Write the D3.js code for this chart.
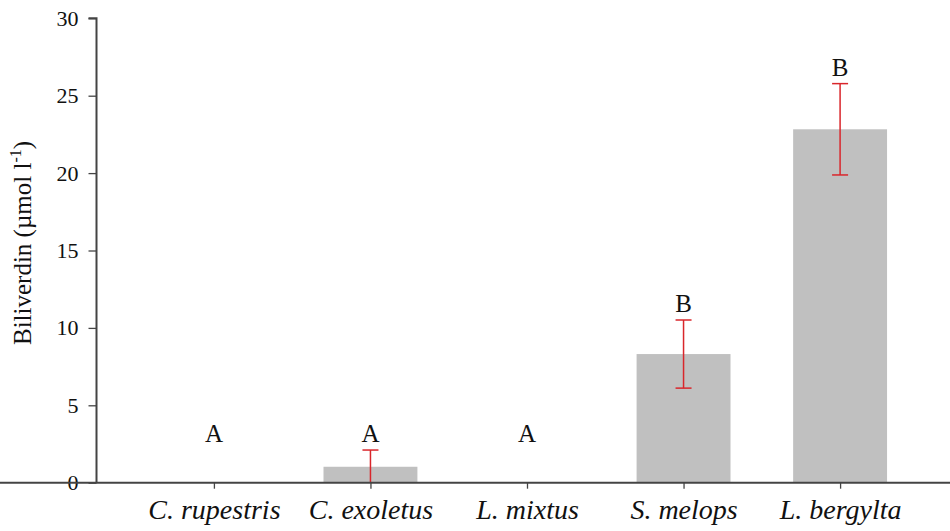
<!DOCTYPE html>
<html>
<head>
<meta charset="utf-8">
<script src="https://cdn.jsdelivr.net/npm/d3@7"></script>
<style>
  html, body { margin: 0; padding: 0; background: #fff; }
  svg { display: block; }
  text { font-family: "Liberation Serif", "Times New Roman", serif; fill: #111; }
</style>
</head>
<body>
<svg id="chart" width="950" height="531"></svg>
<script>
// Species sampled
const species = ["C. rupestris", "C. exoletus", "L. mixtus", "S. melops", "L. bergylta"];
// Mean plasma biliverdin (µmol l-1)
const meanValues = [0, 1.03, 0, 8.31, 22.83];
// Standard error of the mean
const seValues = [0, 1.08, 0, 2.2, 2.95];
// Significance group letters
const groupLetters = ["A", "A", "A", "B", "B"];
// Y axis ticks
const yTicks = [0, 5, 10, 15, 20, 25, 30];

const svg = d3.select("#chart");
const W = 950, H = 531;
const margin = { left: 96.5 };

const y = d3.scaleLinear().domain([0, 30]).range([482.7, 18.3]);
const x = d3.scalePoint().domain(species).range([96.5, 957.5]).padding(0.75);
const step = x.step();
const barW = step * 0.6;

// Bars
svg.append("g").selectAll("rect")
  .data(species)
  .join("rect")
  .attr("x", (d) => x(d) - barW / 2)
  .attr("width", barW)
  .attr("y", (d, i) => y(meanValues[i]))
  .attr("height", (d, i) => y(0) - y(meanValues[i]))
  .attr("fill", "#c0c0c0");

// Error bars (upper cap; lower end clipped at zero)
const capW = 16;
const err = svg.append("g").attr("stroke", "#d9262b").attr("stroke-width", 1.5).attr("fill", "none");
species.forEach((s, i) => {
  if (seValues[i] <= 0) return;
  const hi = meanValues[i] + seValues[i];
  const lo = Math.max(0, meanValues[i] - seValues[i]);
  const cx = x(s);
  err.append("line").attr("x1", cx).attr("x2", cx).attr("y1", y(hi)).attr("y2", y(lo));
  err.append("line").attr("x1", cx - capW / 2).attr("x2", cx + capW / 2).attr("y1", y(hi)).attr("y2", y(hi));
  if (lo > 0) {
    err.append("line").attr("x1", cx - capW / 2).attr("x2", cx + capW / 2).attr("y1", y(lo)).attr("y2", y(lo));
  }
});

// Group letters, placed just above the error bar (with a common floor)
const letterFloor = d3.max(species, (s, i) => (meanValues[i] + seValues[i]) < 3 ? meanValues[i] + seValues[i] : 0);
svg.append("g").selectAll("text")
  .data(species)
  .join("text")
  .attr("x", (d) => x(d))
  .attr("y", (d, i) => y(Math.max(meanValues[i] + seValues[i], letterFloor)) - 8)
  .attr("text-anchor", "middle")
  .attr("font-size", 25)
  .text((d, i) => groupLetters[i]);

// Y axis
const yAxis = svg.append("g")
  .attr("transform", `translate(${margin.left},0)`)
  .call(d3.axisLeft(y).tickValues(yTicks).tickSize(8).tickPadding(10));
yAxis.selectAll("text").attr("font-size", 22).attr("font-family", "Liberation Serif, serif").attr("fill", "#111");

// X axis
const xAxis = svg.append("g")
  .attr("transform", `translate(0,${y(0)})`)
  .call(d3.axisBottom(x).tickSize(6).tickPadding(8).tickSizeOuter(0));
xAxis.selectAll("text")
  .attr("font-size", 28)
  .attr("font-style", "italic")
  .attr("font-family", "Liberation Serif, serif")
  .attr("fill", "#111")
  .attr("dy", "0.8em");

[yAxis, xAxis].forEach((g) => {
  g.select(".domain").attr("stroke", "#444").attr("stroke-width", 2);
  g.selectAll(".tick line").attr("stroke", "#444").attr("stroke-width", 1.3);
});
yAxis.select(".domain").attr("d", `M-8,${y(30)}H0V${y(0)}`);
xAxis.select(".domain").attr("d", `M0,0H${W}`);

// Y axis title
const title = svg.append("text")
  .attr("transform", `translate(31,243) rotate(-90)`)
  .attr("text-anchor", "middle")
  .attr("font-size", 25);
title.append("tspan").text("Biliverdin (µmol l");
title.append("tspan").attr("font-size", 16).attr("dy", -10).text("-1");
title.append("tspan").attr("dy", 10).text(")");
</script>
</body>
</html>
